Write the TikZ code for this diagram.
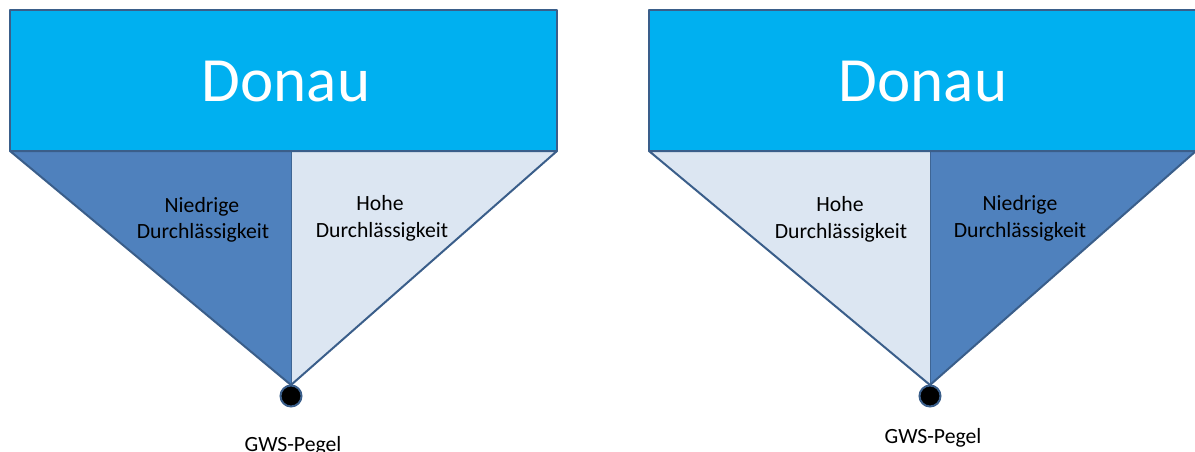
\documentclass[tikz,border=0pt]{standalone}
\usepackage{fontspec}
\setmainfont{Carlito}
\definecolor{river}{HTML}{00B0F0}
\definecolor{lowperm}{HTML}{4F81BD}
\definecolor{highperm}{HTML}{DCE6F2}
\definecolor{outline}{HTML}{3A5E8A}
\begin{document}
\begin{tikzpicture}[x=1pt,y=-1pt,
  edge/.style={draw=outline,line width=2pt,line join=round},
  divider/.style={draw=outline!80!lowperm,line width=1pt},
  riverbox/.style={edge,fill=river},
  title/.style={anchor=base,text=white,inner sep=0pt,font=\fontsize{63}{70}\selectfont},
  lbl/.style={anchor=base,inner sep=0pt,font=\fontsize{21.7}{26}\selectfont},
  gauge/.style={circle,fill=black,draw=outline,line width=2pt,minimum size=21pt,inner sep=0pt}]
\useasboundingbox (0,0) rectangle (1195,452);

% left section: low permeability on the left, high on the right
\fill[lowperm] (10,151) -- (291,151) -- (291,385) -- cycle;
\fill[highperm] (291,151) -- (557,151) -- (291,385) -- cycle;
\draw[divider] (291,151) -- (291,385);
\draw[edge] (10,151) -- (557,151) -- (291,385) -- cycle;
\draw[riverbox] (10,10) rectangle (557,151);
\node[title] (donauL) at (286,102) {Donau};
\node[lbl] (lowL1) at (202,212) {Niedrige};
\node[lbl] (lowL2) at (203,238) {Durchlässigkeit};
\node[lbl] (highL1) at (380,210) {Hohe};
\node[lbl] (highL2) at (382,237) {Durchlässigkeit};
\node[gauge] (gaugeL) at (291,396) {};
\node[lbl] (pegelL) at (293,451) {GWS-Pegel};

% right section: high permeability on the left, low on the right
\fill[highperm] (649,151) -- (930,151) -- (930,385) -- cycle;
\fill[lowperm] (930,151) -- (1196,151) -- (930,385) -- cycle;
\draw[divider] (930,151) -- (930,385);
\draw[edge] (649,151) -- (1196,151) -- (930,385) -- cycle;
\draw[riverbox] (649,10) rectangle (1200,151);
\node[title] (donauR) at (923,102) {Donau};
\node[lbl] (highR1) at (840,211) {Hohe};
\node[lbl] (highR2) at (841,238) {Durchlässigkeit};
\node[lbl] (lowR1) at (1020,210) {Niedrige};
\node[lbl] (lowR2) at (1020,237) {Durchlässigkeit};
\node[gauge] (gaugeR) at (930,396) {};
\node[lbl] (pegelR) at (933,443) {GWS-Pegel};
\end{tikzpicture}
\end{document}
